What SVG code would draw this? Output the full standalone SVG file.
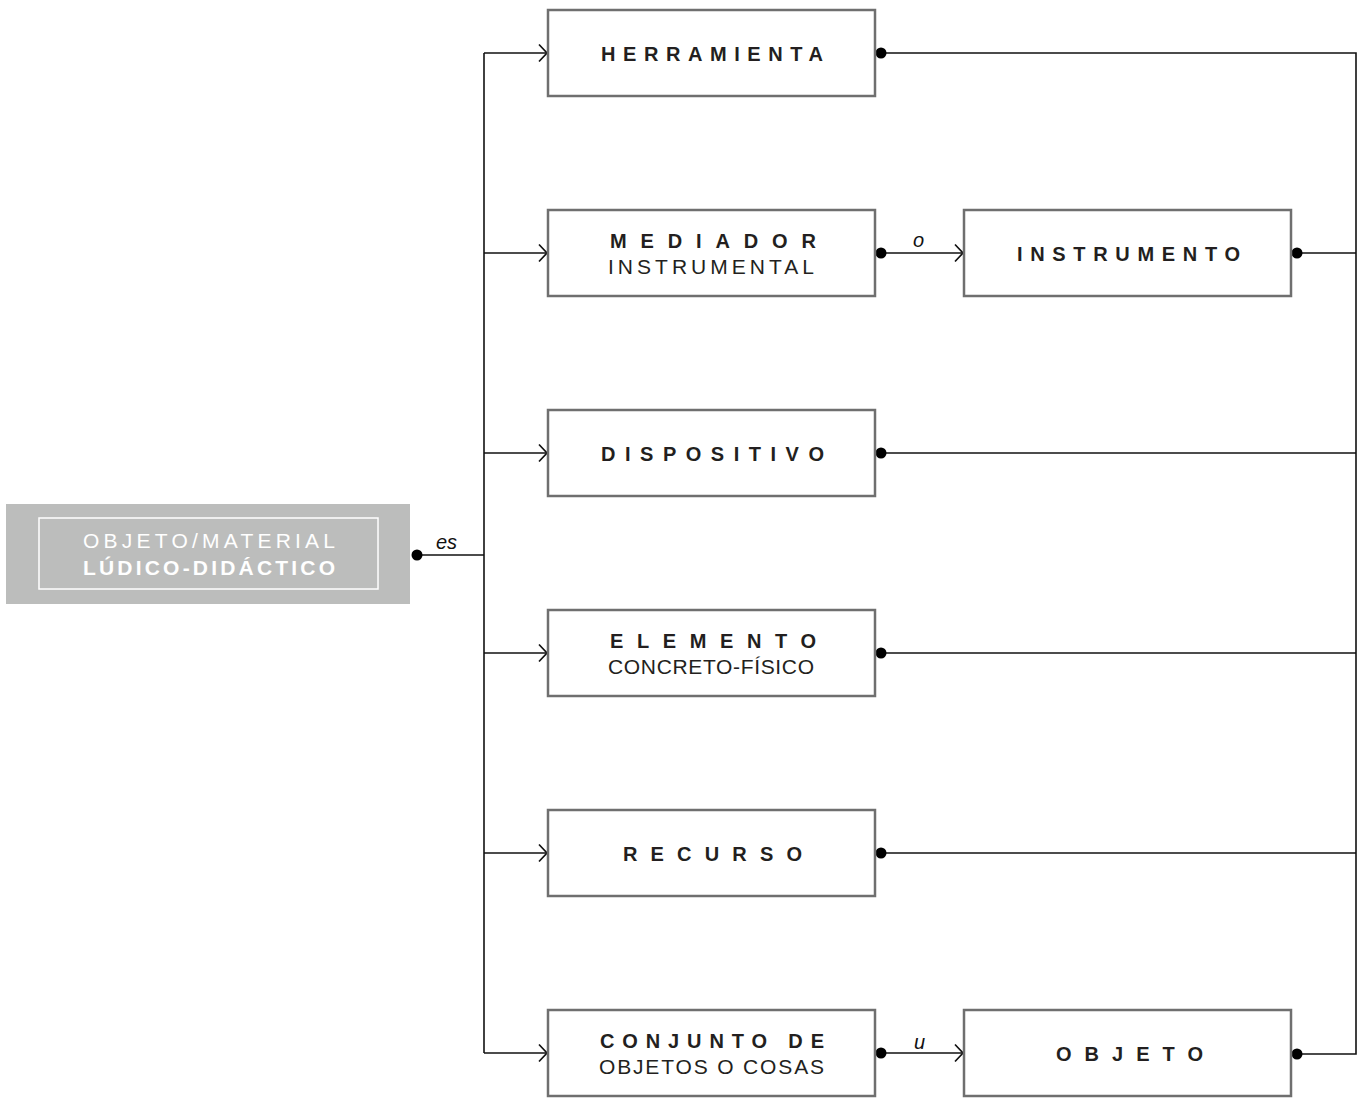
<svg xmlns="http://www.w3.org/2000/svg" width="1358" height="1098" viewBox="0 0 1358 1098">
<defs>
<marker id="arr" markerWidth="12" markerHeight="20" refX="10" refY="10" orient="auto" markerUnits="userSpaceOnUse">
<path d="M2,1.5 L10,10 L2,18.5" fill="none" stroke="#111" stroke-width="1.7"/>
</marker>
<style>
.box{fill:#fff;stroke:#6f6f6f;stroke-width:2.5}
.h{font-family:"Liberation Sans",Arial,sans-serif;font-weight:bold;font-size:20px;fill:#231f20}
.s{font-family:"Liberation Sans",Arial,sans-serif;font-size:21px;fill:#231f20}
.w{font-family:"Liberation Sans",Arial,sans-serif;font-size:21px;fill:#fff}
.wb{font-family:"Liberation Sans",Arial,sans-serif;font-weight:bold;font-size:21px;fill:#fff}
.lab{font-family:"Liberation Sans",Arial,sans-serif;font-style:italic;font-size:20px;fill:#111}
.ln{fill:none;stroke:#111;stroke-width:1.6}
.dot{fill:#000}
</style>
</defs>
<rect width="1358" height="1098" fill="#fff"/>

<g id="connectors">
<path class="ln" d="M417,555 H484"/>
<path class="ln" d="M484,53 V1053"/>
<path class="ln" d="M484,53 H547" marker-end="url(#arr)"/>
<path class="ln" d="M484,253 H547" marker-end="url(#arr)"/>
<path class="ln" d="M484,453 H547" marker-end="url(#arr)"/>
<path class="ln" d="M484,653 H547" marker-end="url(#arr)"/>
<path class="ln" d="M484,853 H547" marker-end="url(#arr)"/>
<path class="ln" d="M484,1053 H547" marker-end="url(#arr)"/>
<path class="ln" d="M881,253 H963" marker-end="url(#arr)"/>
<path class="ln" d="M881,1053 H963" marker-end="url(#arr)"/>
<path class="ln" d="M881,53 H1356 V1054 H1297"/>
<path class="ln" d="M1297,253 H1356"/>
<path class="ln" d="M881,453 H1356"/>
<path class="ln" d="M881,653 H1356"/>
<path class="ln" d="M881,853 H1356"/>
<circle class="dot" cx="417" cy="555" r="5.5"/>
<circle class="dot" cx="881" cy="53" r="5.5"/>
<circle class="dot" cx="881" cy="253" r="5.5"/>
<circle class="dot" cx="881" cy="453" r="5.5"/>
<circle class="dot" cx="881" cy="653" r="5.5"/>
<circle class="dot" cx="881" cy="853" r="5.5"/>
<circle class="dot" cx="881" cy="1053" r="5.5"/>
<circle class="dot" cx="1297" cy="253" r="5.5"/>
<circle class="dot" cx="1297" cy="1054" r="5.5"/>
<text class="lab" x="436" y="549">es</text>
<text class="lab" x="913" y="247">o</text>
<text class="lab" x="914" y="1049">u</text>
</g>

<g id="objeto-material">
<rect x="6" y="504" width="404" height="100" fill="#bcbdbc"/>
<rect x="39" y="518" width="339" height="71" fill="none" stroke="#fff" stroke-width="1.5"/>
<text class="w" x="83" y="548" textLength="252" lengthAdjust="spacing">OBJETO/MATERIAL</text>
<text class="wb" x="83" y="575" textLength="252" lengthAdjust="spacing">LÚDICO-DIDÁCTICO</text>
</g>

<g id="herramienta">
<rect class="box" x="548" y="10" width="327" height="86"/>
<text class="h" x="601" y="61" textLength="222" lengthAdjust="spacing">HERRAMIENTA</text>
</g>

<g id="mediador">
<rect class="box" x="548" y="210" width="327" height="86"/>
<text class="h" x="610" y="248" textLength="206" lengthAdjust="spacing">MEDIADOR</text>
<text class="s" x="608" y="274" textLength="206" lengthAdjust="spacing">INSTRUMENTAL</text>
</g>

<g id="instrumento">
<rect class="box" x="964" y="210" width="327" height="86"/>
<text class="h" x="1017" y="261" textLength="223" lengthAdjust="spacing">INSTRUMENTO</text>
</g>

<g id="dispositivo">
<rect class="box" x="548" y="410" width="327" height="86"/>
<text class="h" x="601" y="461" textLength="223" lengthAdjust="spacing">DISPOSITIVO</text>
</g>

<g id="elemento">
<rect class="box" x="548" y="610" width="327" height="86"/>
<text class="h" x="610" y="648" textLength="206" lengthAdjust="spacing">ELEMENTO</text>
<text class="s" x="608" y="674" textLength="206" lengthAdjust="spacing">CONCRETO-FÍSICO</text>
</g>

<g id="recurso">
<rect class="box" x="548" y="810" width="327" height="86"/>
<text class="h" x="623" y="861" textLength="179" lengthAdjust="spacing">RECURSO</text>
</g>

<g id="conjunto">
<rect class="box" x="548" y="1010" width="327" height="86"/>
<text class="h" x="600" y="1048" textLength="224" lengthAdjust="spacing">CONJUNTO DE</text>
<text class="s" x="599" y="1074" textLength="225" lengthAdjust="spacing">OBJETOS O COSAS</text>
</g>

<g id="objeto">
<rect class="box" x="964" y="1010" width="327" height="86"/>
<text class="h" x="1056" y="1061" textLength="147" lengthAdjust="spacing">OBJETO</text>
</g>
</svg>
